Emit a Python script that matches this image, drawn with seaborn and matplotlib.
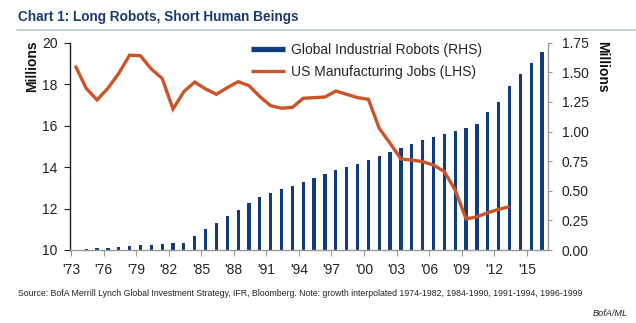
import matplotlib
matplotlib.use('Agg')
import matplotlib.pyplot as plt
import seaborn as sns
import pandas as pd
from matplotlib.lines import Line2D

sns.set_theme(style='white')
plt.rcParams['font.family'] = ['Liberation Sans', 'DejaVu Sans']

# ---------------- data ----------------
robot_years = list(range(1974, 2017))
robots = [0.006, 0.014, 0.020, 0.025, 0.031, 0.039, 0.045, 0.050, 0.056, 0.062,
          0.118, 0.174, 0.230, 0.286, 0.340, 0.395, 0.450, 0.480, 0.513, 0.544,
          0.578, 0.608, 0.642, 0.672, 0.700, 0.729, 0.760, 0.793, 0.827, 0.864,
          0.898, 0.931, 0.957, 0.982, 1.005, 1.030, 1.066, 1.165, 1.246, 1.384,
          1.483, 1.576, 1.671]
job_years = list(range(1973, 2014))
jobs = [18.89, 17.80, 17.24, 17.80, 18.52, 19.40, 19.37, 18.73, 18.28, 16.80,
        17.64, 18.10, 17.77, 17.51, 17.83, 18.12, 17.93, 17.40, 16.96, 16.84,
        16.88, 17.32, 17.35, 17.38, 17.67, 17.51, 17.35, 17.27, 15.87, 15.15,
        14.39, 14.34, 14.26, 14.10, 13.78, 12.89, 11.50, 11.60, 11.80, 11.96,
        12.09]
tick_years = list(range(1973, 2016, 3))
tick_labels = ["'73", "'76", "'79", "'82", "'85", "'88", "'91", "'94", "'97",
               "'00", "'03", "'06", "'09", "'12", "'15"]
left_ticks = [10, 12, 14, 16, 18, 20]
right_ticks = [0.00, 0.25, 0.50, 0.75, 1.00, 1.25, 1.50, 1.75]

title = "Chart 1: Long Robots, Short Human Beings"
series_names = ["Global Industrial Robots (RHS)", "US Manufacturing Jobs (LHS)"]
source = ("Source: BofA Merrill Lynch Global Investment Strategy, IFR, Bloomberg. "
          "Note: growth interpolated 1974-1982, 1984-1990, 1991-1994, 1996-1999")

BAR_C = '#0F3C7D'
LINE_C = '#CB5429'
TICK_SHIFT = 0.4   # ticks sit at the start of each year's slot

robot_df = pd.DataFrame({'year': robot_years, 'robots': robots})
job_df = pd.DataFrame({'year': job_years, 'jobs': jobs})

fig = plt.figure(figsize=(6.36, 3.23), dpi=100)
ax = fig.add_axes([70/636, 1 - 250/323, (547.7 - 70)/636, (250 - 42.7)/323])
ax2 = ax.twinx()

# bars on the right-hand axis
sns.barplot(data=robot_df, x='year', y='robots', native_scale=True, ax=ax2,
            color=BAR_C, saturation=1, width=0.3, errorbar=None, linewidth=0)
# line on the left-hand axis
sns.lineplot(data=job_df, x='year', y='jobs', ax=ax, color=LINE_C, lw=2.4,
             solid_capstyle='butt', solid_joinstyle='miter')

ax.set_zorder(ax2.get_zorder() + 1)
ax.patch.set_visible(False)

xlim = (tick_years[0] - TICK_SHIFT - 0.09, tick_years[0] - TICK_SHIFT + 43.92)
for a in (ax, ax2):
    a.set_xlim(*xlim)
    a.set_xlabel('')
    a.set_ylabel('')
    a.grid(False)

ax.set_ylim(10, 20)
ax.set_yticks(left_ticks)
ax.set_yticklabels([str(t) for t in left_ticks])
ax2.set_ylim(0, 1.75)
ax2.set_yticks(right_ticks)
ax2.set_yticklabels([f"{t:.2f}" for t in right_ticks])
ax.set_xticks([y - TICK_SHIFT for y in tick_years])
ax.set_xticklabels(tick_labels)

fs = 10
ax.tick_params(axis='both', labelsize=fs, colors='#222222', length=4, width=0.8,
               direction='out', pad=4)
ax.tick_params(axis='x', bottom=True, pad=5)
ax.tick_params(axis='y', left=True, pad=5)
ax2.tick_params(axis='y', labelsize=fs, colors='#222222', length=3, width=0.8,
                right=True, direction='out', pad=7)
ax2.tick_params(axis='x', bottom=False, labelbottom=False)
for a in (ax, ax2):
    a.spines['top'].set_visible(False)
ax.spines['left'].set_color('#222222')
ax.spines['left'].set_linewidth(1.0)
ax.spines['bottom'].set_color('#9a9a9a')
ax.spines['bottom'].set_linewidth(1.0)
ax.spines['right'].set_visible(False)
ax2.spines['left'].set_visible(False)
ax2.spines['bottom'].set_visible(False)
ax2.spines['right'].set_color('#9a9a9a')
ax2.spines['right'].set_linewidth(1.0)
ax2.tick_params(axis='y', color='#9a9a9a', labelcolor='#222222')
ax.tick_params(axis='x', color='#9a9a9a', labelcolor='#222222')

# axis unit labels
fig.text(31.7/636, 1 - 66/323, 'Millions', rotation=90, ha='center', va='center',
         fontsize=fs, fontweight='bold', color='#111111')
fig.text(602/636, 1 - 66.5/323, 'Millions', rotation=270, ha='center', va='center',
         fontsize=fs, fontweight='bold', color='#111111')

# legend
handles = [Line2D([], [], color=BAR_C, lw=3.8, solid_capstyle='butt'),
           Line2D([], [], color=LINE_C, lw=2.4, solid_capstyle='butt')]
ax.legend(handles, series_names, loc='upper left',
          bbox_to_anchor=(250.7/636, 1 - 43/323), bbox_transform=fig.transFigure,
          frameon=False, fontsize=fs, handlelength=2.5, handletextpad=0.4,
          labelspacing=0.55, borderpad=0, borderaxespad=0)

# title and rule
fig.text(18/636, 1 - 17/323, title, ha='left', va='center', fontsize=9.8,
         fontweight='bold', color='#1C3A6E')
fig.add_artist(Line2D([17/636, 1.0], [1 - 29.5/323, 1 - 29.5/323],
                      transform=fig.transFigure, color='#B3C5D9', lw=1.2))

# footer
fig.text(18/636, 1 - 293/323, source, ha='left', va='center', fontsize=6.32,
         color='#222222')
fig.text(628/636, 1 - 314/323, 'BofA/ML', ha='right', va='center', fontsize=6.6,
         style='italic', color='#222222')

fig.savefig('out.png', dpi=100)
